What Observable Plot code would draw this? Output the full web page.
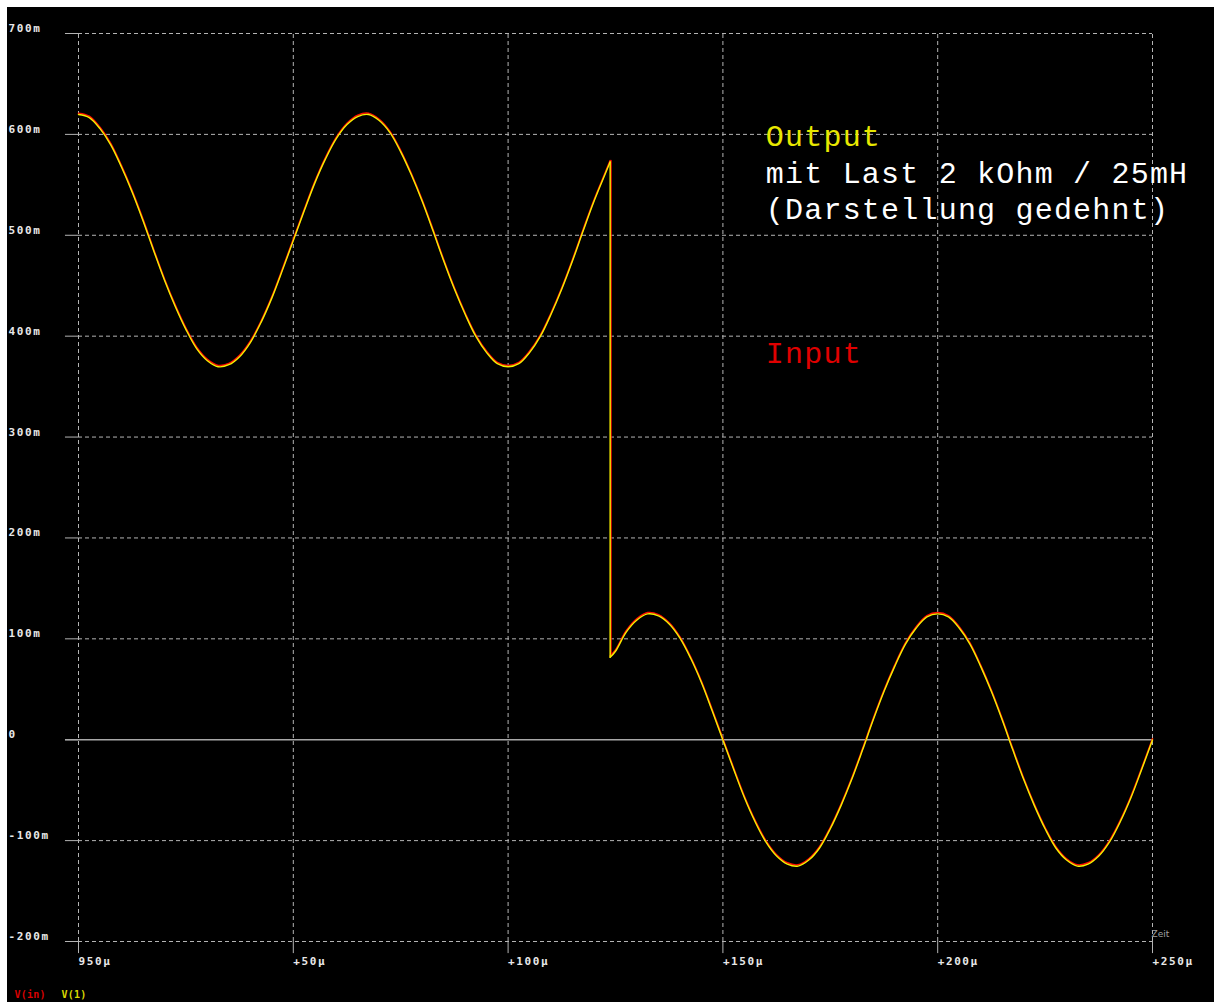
<!DOCTYPE html>
<html><head><meta charset="utf-8">
<script src="https://cdn.jsdelivr.net/npm/d3@7"></script>
<script src="https://cdn.jsdelivr.net/npm/@observablehq/plot@0.6"></script>
<style>
html,body{margin:0;padding:0;background:#fff;}
#chart{position:absolute;left:7px;top:7px;}
svg{display:block}
</style></head><body><div id="chart"></div>
<script>
// time in µs after 950 µs
const timesUs = [0,2.5,5,7.5,10,12.5,15,17.5,20,22.5,25,27.5,30,32.5,35,37.5,40,42.5,45,47.5,
  50,52.5,55,57.5,60,62.5,65,67.5,70,72.5,75,77.5,80,82.5,85,87.5,90,92.5,95,97.5,
  100,102.5,105,107.5,110,112.5,115,117.5,120,122.5,123.75,123.75,
  125,127.5,130,132.5,135,137.5,140,142.5,145,147.5,150,152.5,155,157.5,160,162.5,165,167.5,170,172.5,
  175,177.5,180,182.5,185,187.5,190,192.5,195,197.5,200,202.5,205,207.5,210,212.5,215,217.5,220,222.5,
  225,227.5,230,232.5,235,237.5,240,242.5,245,247.5,250];
// V(1) output in mV
const outputV = [620,617,606,590,568,543,515,485,456,430,407,388,376,370,372,380,394,414,438,466,
  495,524,552,576,596,610,618,620,614,602,583,560,534,505,475,447,422,400,384,373,
  370,373,384,400,422,447,475,505,534,560,573,82,
  88,107,119,125,123,115,101,81,57,29,0,-29,-57,-81,-101,-115,-123,-125,-119,-107,
  -88,-65,-39,-10,20,48,73,95,111,122,125,122,111,95,73,48,20,-10,-39,-65,
  -88,-107,-119,-125,-123,-115,-101,-81,-57,-29,0];
// V(in) input in mV
const inputV = [620,617,606,590,568,543,515,485,456,430,407,388,376,370,372,380,394,414,438,466,
  495,524,552,576,596,610,618,620,614,602,583,560,534,505,475,447,422,400,384,373,
  370,373,384,400,422,447,475,505,534,560,573,82,
  88,107,119,125,123,115,101,81,57,29,0,-29,-57,-81,-101,-115,-123,-125,-119,-107,
  -88,-65,-39,-10,20,48,73,95,111,122,125,122,111,95,73,48,20,-10,-39,-65,
  -88,-107,-119,-125,-123,-115,-101,-81,-57,-29,0];
const xTicks = [0,50,100,150,200,250];
const xTickLabels = ["950µ","+50µ","+100µ","+150µ","+200µ","+250µ"];
const yTicks = [700,600,500,400,300,200,100,0,-100,-200];
const yTickLabels = ["700m","600m","500m","400m","300m","200m","100m","0","-100m","-200m"];
const seriesNames = ["V(in)","V(1)"];
const noteLines = ["Output","mit Last 2 kOhm / 25mH","(Darstellung gedehnt)","Input"];

const data = timesUs.map((t,i)=>({t, out: outputV[i], inp: inputV[i]}));
// split where the trace jumps (two samples at the same time)
const jump = timesUs.findIndex((t, i) => i > 0 && t === timesUs[i - 1]);
const pieces = [data.slice(0, jump), data.slice(jump - 1, jump + 1), data.slice(jump)];
const grid = "#b4b4b4";
const tickFont = {fontSize: 11, fontFamily: "DejaVu Sans Mono", fontWeight: "bold"};
const legendFont = {fontSize: 10, fontFamily: "DejaVu Sans Mono", fontWeight: "bold"};
const noteFont = {fontSize: 30, fontFamily: "Liberation Mono", textAnchor: "start", lineAnchor: "middle"};

const traceMarks = [];
for (const p of pieces) {
  const curve = p.length > 2 ? "catmull-rom" : "linear";
  traceMarks.push(Plot.line(p, {x: "t", y: "inp", stroke: "#ff1000", strokeWidth: 1.6, dy: -1, dx: p.length > 2 ? 0 : 0.8, curve}));
}
for (const p of pieces) {
  const curve = p.length > 2 ? "catmull-rom" : "linear";
  traceMarks.push(Plot.line(p, {x: "t", y: "out", stroke: "#f4f000", strokeWidth: 1.4, dy: 0.3, curve}));
}

const plot = Plot.plot({
  width: 1207, height: 995,
  marginLeft: 71, marginRight: 62, marginTop: 26, marginBottom: 61,
  style: {background: "#000", color: "#fff", overflow: "visible"},
  x: {domain: [0, 250], axis: null},
  y: {domain: [-200, 700], axis: null},
  marks: [
    Plot.ruleY(yTicks.filter(d => d !== 0), {x1: 0, x2: 250, stroke: grid, strokeDasharray: "4,3"}),
    Plot.ruleY(yTicks, {x1: -3.03, x2: 0, stroke: grid}),
    Plot.ruleX(xTicks, {y1: -200, y2: 700, stroke: grid, strokeDasharray: "4,3"}),
    Plot.ruleX(xTicks, {y1: -212, y2: -200, stroke: grid}),
    Plot.ruleY([0], {x1: -3.03, x2: 250, stroke: "#a8a8a8", strokeWidth: 1.5}),
    ...traceMarks,
    Plot.text(yTicks, {x: 0, y: d => d, text: (d, i) => yTickLabels[i], textAnchor: "start", dx: -70, dy: -5, fill: "#e8e8e8", ...tickFont}),
    Plot.text(xTicks, {x: d => d, y: -200, text: (d, i) => xTickLabels[i], textAnchor: "start", dy: 20, fill: "#e8e8e8", ...tickFont}),
    Plot.text(["Zeit"], {x: 250, y: -200, text: d => d, textAnchor: "start", dx: -1, dy: -7, fill: "#a0a0a0", fontSize: 9, fontFamily: "DejaVu Sans"}),
    Plot.text([seriesNames[0]], {x: 0, y: -200, text: d => d, textAnchor: "start", dx: -64, dy: 53, fill: "#d80000", ...legendFont}),
    Plot.text([seriesNames[1]], {x: 0, y: -200, text: d => d, textAnchor: "start", dx: -17, dy: 53, fill: "#d8d800", ...legendFont}),
    Plot.text([noteLines[0]], {x: 160, y: 598, text: d => d, fill: "#e8e800", ...noteFont}),
    Plot.text([noteLines[1]], {x: 160, y: 561, text: d => d, fill: "#ffffff", ...noteFont}),
    Plot.text([noteLines[2]], {x: 160, y: 526, text: d => d, fill: "#ffffff", ...noteFont}),
    Plot.text([noteLines[3]], {x: 160, y: 383, text: d => d, fill: "#e00000", ...noteFont})
  ]
});
const svg = d3.select(plot);
svg.selectAll('g[font-size="11"] text').attr("letter-spacing", "1.6px");
svg.selectAll('g[font-size="10"] text').attr("letter-spacing", "0.2px");
svg.selectAll('g[font-size="30"] text').attr("letter-spacing", "1.2px");
document.getElementById("chart").appendChild(plot);
</script>
</body></html>
